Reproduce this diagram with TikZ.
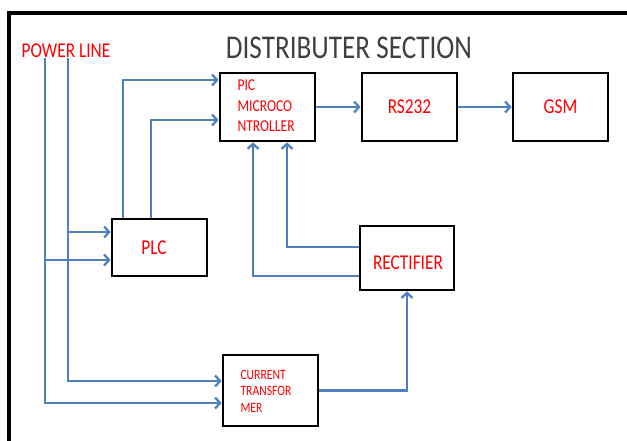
\documentclass[tikz,border=0pt]{standalone}
\usepackage{fontspec}
\setmainfont{Carlito}
\usetikzlibrary{arrows.meta}
\definecolor{lineblue}{HTML}{4F81BD}
\definecolor{titlegray}{HTML}{404040}
\newcommand{\vs}[1]{\scalebox{1}[1.22]{#1}}
\tikzset{
  blk/.style={draw=black, line width=2.7pt, fill=white, inner sep=0pt},
  lbl/.style={text=red, font=\fontsize{17.3}{20}\selectfont},
  wire/.style={draw=lineblue, line width=2.6pt},
  arr/.style={wire, -{Straight Barb[length=5pt,width=11pt,line width=2.3pt]}}
}
\begin{document}
\begin{tikzpicture}[x=1pt,y=-1pt]
\useasboundingbox (0,0) rectangle (627,440);
\clip (0,0) rectangle (627,440);
\fill[white] (0,0) rectangle (627,440);
% frame
\draw[line width=4pt] (9,700) -- (9,13) -- (700,13);
% title and power line label
\node[text=titlegray, font=\fontsize{27.2}{30}\selectfont] (title) at (349,48) {\vs{DISTRIBUTER SECTION}};
\node[text=red, font=\fontsize{17.3}{20}\selectfont] (pwr) at (66,51) {\vs{POWER LINE}};
% boxes
\node[blk, minimum width=95pt, minimum height=68pt] (pic) at (267.5,107) {};
\node[text=red, font=\fontsize{13.6}{16}\selectfont, anchor=west, align=left] (pictxt) at (234,106)
  {\vs{PIC}\\[4.5pt]\vs{MICROCO}\\[4.5pt]\vs{NTROLLER}};
\node[blk, minimum width=95pt, minimum height=68pt, lbl] (rs) at (409.5,107) {\vs{RS232}};
\node[blk, minimum width=95pt, minimum height=68pt, lbl] (gsm) at (560.5,107) {\vs{GSM}};
\node[blk, minimum width=95pt, minimum height=57pt] (plc) at (159.5,247.5) {};
\node[lbl] (plctxt) at (154,248) {\vs{PLC}};
\node[blk, minimum width=94pt, minimum height=64pt] (rect) at (407,258) {};
\node[lbl] (recttxt) at (408,263) {\vs{RECTIFIER}};
\node[blk, minimum width=95pt, minimum height=71pt] (ct) at (270.5,390.5) {};
\node[text=red, font=\fontsize{11.65}{14}\selectfont, anchor=west, align=left] (cttxt) at (237,391)
  {\vs{CURRENT}\\[2.5pt]\vs{TRANSFOR}\\[2.5pt]\vs{MER}};
% power line wires
\coordinate (pa) at (45,58);
\coordinate (pb) at (68,58);
\coordinate (pa1) at (45,260);
\coordinate (pb1) at (68,232);
\draw[arr] (pa) |- (ct.west |- 0,403);
\draw[arr] (pb) |- (ct.west |- 0,381);
\draw[arr] (pa1) -- (plc.west |- pa1);
\draw[arr] (pb1) -- (plc.west |- pb1);
% PLC to PIC
\draw[arr] (plc.north -| 123,0) |- (pic.west |- 0,80);
\draw[arr] (plc.north -| 151,0) |- (pic.west |- 0,120);
% PIC -> RS232 -> GSM
\draw[arr] (pic.east) -- (rs.west);
\draw[arr] (rs.east) -- (gsm.west);
% Rectifier to PIC
\draw[arr] (rect.west |- 0,247) -| (pic.south -| 287,0);
\draw[arr] (rect.west |- 0,276) -| (pic.south -| 253,0);
% CT to Rectifier
\draw[arr] (ct.east) -| (rect.south);
\end{tikzpicture}
\end{document}
